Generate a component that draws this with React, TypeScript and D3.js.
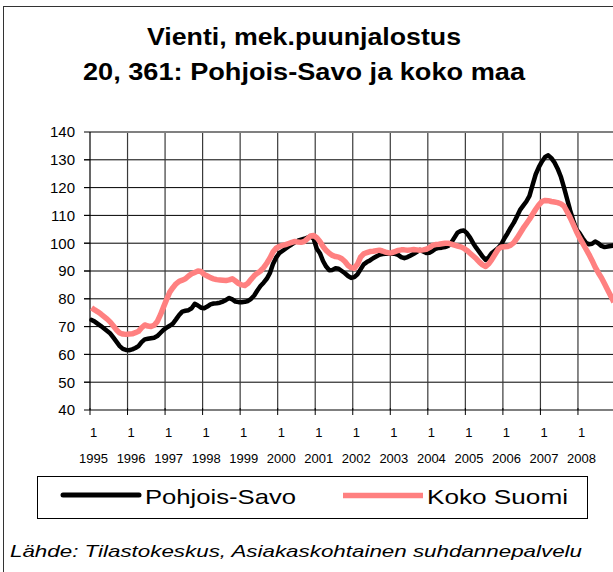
import React from "react";
import * as d3 from "d3";

// monthly index, Jan 1995 .. Dec 2008
const years = [1995, 1996, 1997, 1998, 1999, 2000, 2001, 2002, 2003, 2004, 2005, 2006, 2007, 2008];

const pohjoisSavo = [
  72.4, 71.8, 71.0, 70.2, 69.3, 68.4, 67.5, 66.0, 64.5, 63.0, 62.0, 61.6,
  61.5, 61.8, 62.3, 63.0, 64.4, 65.4, 65.6, 65.8, 66.0, 66.6, 67.7, 68.8,
  69.6, 70.3, 71.1, 72.6, 74.2, 75.4, 75.7, 75.9, 76.6, 78.2, 77.6, 76.8,
  76.6, 77.2, 78.0, 78.3, 78.4, 78.6, 79.0, 79.6, 80.3, 79.8, 79.0, 78.8,
  78.8, 78.9, 79.2, 80.0, 81.2, 83.0, 84.6, 85.8, 87.2, 89.2, 92.5, 94.8,
  96.4, 97.2, 98.0, 98.8, 99.6, 100.3, 100.9, 101.3, 101.6, 102.0, 102.5, 101.6,
  98.0, 96.4, 93.6, 91.6, 90.3, 90.4, 91.0, 90.8, 90.0, 89.2, 88.2, 87.5,
  87.8, 88.8, 90.6, 92.4, 93.2, 93.8, 94.6, 95.2, 95.8, 96.1, 96.2, 96.2,
  96.3, 96.2, 95.8, 95.0, 94.6, 95.0, 95.6, 96.2, 96.9, 97.6, 97.0, 96.5,
  96.6, 97.2, 98.0, 98.3, 98.4, 98.6, 99.0, 100.2, 102.0, 103.8, 104.4, 104.6,
  103.6, 102.0, 100.0, 98.3, 96.8, 95.2, 94.0, 95.0, 96.5, 97.4, 98.3, 99.6,
  101.8, 103.6, 105.6, 107.4, 109.6, 112.0, 113.5, 115.0, 117.0, 121.0, 124.8, 127.4,
  129.4, 131.0, 131.6, 130.6, 129.0, 126.8, 124.0, 120.2, 116.0, 111.8, 108.2, 105.0,
  103.6, 101.8, 100.2, 99.6, 99.8, 100.6, 100.0, 99.0, 98.6, 98.8, 99.0, 99.2,
];

const kokoSuomi = [
  76.8, 76.0, 75.3, 74.5, 73.6, 72.7, 71.6, 70.2, 68.8, 67.7, 67.3, 67.2,
  67.3, 67.4, 67.8, 68.3, 69.6, 70.6, 70.2, 70.0, 70.5, 71.8, 74.2, 77.0,
  79.8, 82.4, 84.0, 85.4, 86.3, 86.7, 87.2, 88.2, 89.0, 89.5, 90.0, 89.8,
  88.8, 88.2, 87.6, 87.2, 86.9, 86.8, 86.7, 86.6, 86.8, 87.2, 86.4, 85.5,
  85.0, 84.8, 85.6, 87.0, 88.3, 89.2, 90.0, 91.2, 92.8, 94.6, 96.8, 98.2,
  98.8, 99.2, 99.5, 99.9, 100.3, 100.6, 100.4, 100.3, 100.6, 101.6, 102.6, 102.8,
  102.0, 100.6, 98.8, 97.4, 96.4, 95.6, 95.2, 95.0, 94.4, 93.4, 92.0, 91.2,
  91.0, 92.4, 95.0, 96.2, 96.6, 97.0, 97.1, 97.3, 97.5, 97.2, 96.8, 96.5,
  96.6, 97.0, 97.4, 97.6, 97.6, 97.5, 97.6, 97.7, 97.6, 97.5, 97.6, 97.8,
  98.4, 99.2, 99.5, 99.6, 99.8, 100.0, 100.0, 99.7, 99.3, 99.0, 98.7, 98.2,
  97.4, 96.4, 95.4, 94.4, 93.2, 92.2, 91.6, 92.6, 94.2, 96.0, 97.8, 98.6,
  98.7, 98.8, 99.3, 100.2, 101.8, 103.6, 105.4, 107.0, 108.6, 110.4, 112.2, 113.8,
  115.0, 115.4, 115.3, 115.0, 114.8, 114.6, 114.2, 113.4, 111.4, 109.2, 106.8, 104.2,
  102.0, 100.0, 98.0, 96.0, 93.8, 91.4, 89.4, 87.6, 85.4, 83.2, 81.0, 78.8,
];

const seriesNames = ["Pohjois-Savo", "Koko Suomi"];
const title1 = "Vienti, mek.puunjalostus";
const title2 = "20, 361: Pohjois-Savo ja koko maa";
const source = "Lähde: Tilastokeskus, Asiakaskohtainen suhdannepalvelu";

const W = 613;
const H = 572;
const left = 90;
const right = 615.5;
const top = 132;
const bottom = 410;
const font = "'Liberation Sans', Arial, sans-serif";

export default function App() {
  const n = years.length * 12;
  const x = d3.scaleLinear().domain([0, n]).range([left, right]);
  const y = d3.scaleLinear().domain([40, 140]).range([bottom, top]);
  const yTicks = y.ticks(10);

  const line = d3
    .line<number>()
    .x((_, i) => x(i + 0.5))
    .y((d) => y(d))
    .curve(d3.curveLinear);

  return (
    <svg
      width={W}
      height={H}
      style={{ position: "absolute", left: 0, top: 0, background: "#fff" }}
      fontFamily={font}
    >
      <rect x={0} y={0} width={W} height={H} fill="#fff" />
      {/* chart frame, cut at right/bottom */}
      <rect x={3.5} y={6.5} width={700} height={700} fill="none" stroke="#333" strokeWidth={1} />

      {/* title */}
      <g fontWeight="bold" fontSize={23} textAnchor="middle" fill="#000">
        <text x={304} y={45} textLength={314} lengthAdjust="spacingAndGlyphs">{title1}</text>
        <text x={304} y={80} textLength={442} lengthAdjust="spacingAndGlyphs">{title2}</text>
      </g>

      {/* horizontal grid + y ticks */}
      {yTicks.map((t) => (
        <g key={t}>
          {t < 140 && t > 40 && (
            <line x1={84} x2={right} y1={y(t)} y2={y(t)} stroke="#000" strokeWidth={1} />
          )}
          <line x1={84} x2={left} y1={y(t)} y2={y(t)} stroke="#000" strokeWidth={1} />
          <text x={75} y={y(t)} dy="0.36em" textAnchor="end" fontSize={15} fill="#000">
            {t}
          </text>
        </g>
      ))}

      {/* vertical grid at year boundaries */}
      {years.slice(1).map((yr, k) => (
        <line
          key={yr}
          x1={x((k + 1) * 12)}
          x2={x((k + 1) * 12)}
          y1={top}
          y2={bottom}
          stroke="#3a3a3a"
          strokeWidth={1.2}
        />
      ))}

      {/* plot top border */}
      <line x1={left} x2={right} y1={top} y2={top} stroke="#808080" strokeWidth={2} />

      {/* axes */}
      <line x1={left} x2={left} y1={top} y2={bottom} stroke="#000" strokeWidth={1.2} />
      <line x1={left} x2={right} y1={bottom} y2={bottom} stroke="#000" strokeWidth={1.2} />
      {years.map((yr, k) => (
        <line key={yr} x1={x(k * 12)} x2={x(k * 12)} y1={bottom - 2} y2={bottom + 5} stroke="#000" strokeWidth={1} />
      ))}

      {/* x labels */}
      <g fontSize={13} textAnchor="middle" fill="#000">
        {years.map((yr, k) => (
          <g key={yr}>
            <text x={x(k * 12 + 0.5) + 2} y={437}>1</text>
            <text x={x(k * 12 + 0.5) + 2} y={463}>{yr}</text>
          </g>
        ))}
      </g>

      {/* series */}
      <path
        d={line(pohjoisSavo) ?? ""}
        fill="none"
        stroke="#000"
        strokeWidth={4.5}
        strokeLinejoin="round"
        strokeLinecap="round"
      />
      <path
        d={line(kokoSuomi) ?? ""}
        fill="none"
        stroke="#ff8080"
        strokeWidth={5.5}
        strokeLinejoin="round"
      />

      {/* legend */}
      <rect x={37.5} y={476.5} width={550} height={42} fill="#fff" stroke="#000" strokeWidth={1} />
      <line x1={63} x2={139} y1={495} y2={495} stroke="#000" strokeWidth={5} strokeLinecap="round" />
      <text x={145} y={503.5} fontSize={21} textLength={151} lengthAdjust="spacingAndGlyphs">
        {seriesNames[0]}
      </text>
      <line x1={343} x2={423} y1={495.5} y2={495.5} stroke="#ff8080" strokeWidth={5.5} />
      <text x={427} y={503.5} fontSize={21} textLength={141} lengthAdjust="spacingAndGlyphs">
        {seriesNames[1]}
      </text>

      {/* source */}
      <text x={10} y={556.5} fontSize={17} fontStyle="italic" textLength={572} lengthAdjust="spacingAndGlyphs">
        {source}
      </text>
    </svg>
  );
}
